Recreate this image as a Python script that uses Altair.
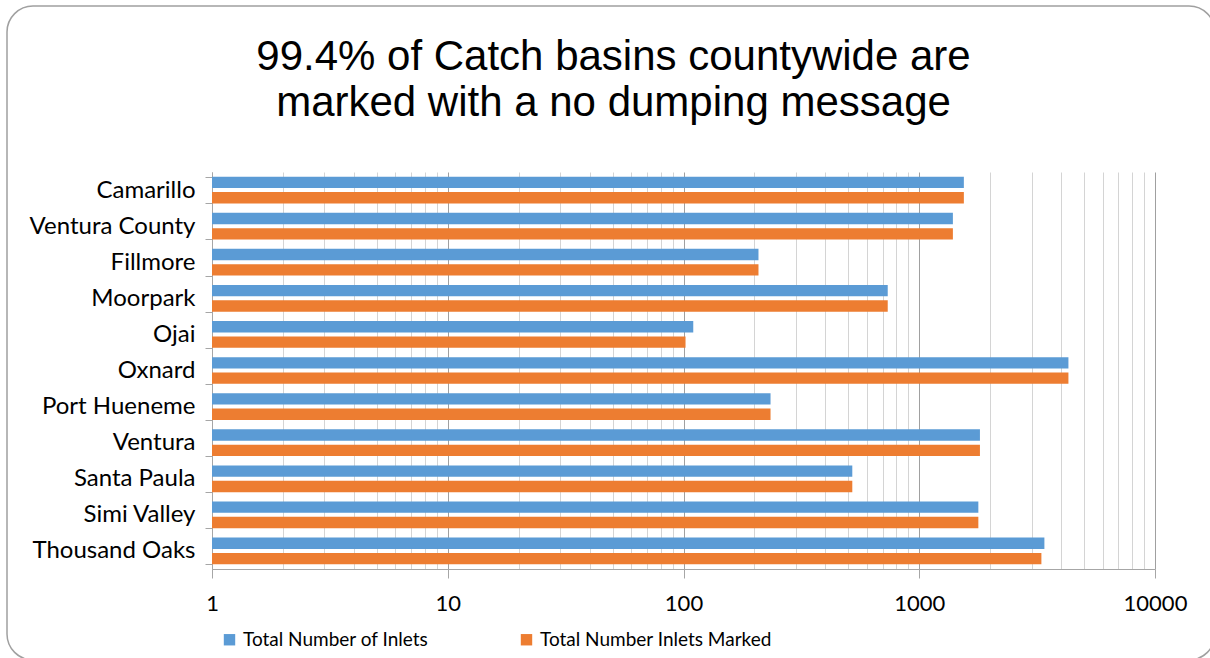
import altair as alt
import pandas as pd

cities = ["Camarillo", "Ventura County", "Fillmore", "Moorpark", "Ojai", "Oxnard",
          "Port Hueneme", "Ventura", "Santa Paula", "Simi Valley", "Thousand Oaks"]
total_inlets = [1546, 1389, 208, 735, 110, 4293, 234, 1809, 520, 1781, 3395]
inlets_marked = [1546, 1389, 208, 735, 102, 4293, 234, 1809, 520, 1781, 3297]
series_names = ["Total Number of Inlets", "Total Number Inlets Marked"]
series_colors = ["#5B9BD5", "#ED7D31"]
grid_values = [1, 2, 3, 4, 5, 6, 7, 8, 9,
               10, 20, 30, 40, 50, 60, 70, 80, 90,
               100, 200, 300, 400, 500, 600, 700, 800, 900,
               1000, 2000, 3000, 4000, 5000, 6000, 7000, 8000, 9000, 10000]
major_values = [1, 10, 100, 1000, 10000]
title_lines = ["99.4% of Catch basins countywide are", "marked with a no dumping message"]

rows = []
for c, t, m in zip(cities, total_inlets, inlets_marked):
    rows.append({"city": c, "series": series_names[0], "value": t})
    rows.append({"city": c, "series": series_names[1], "value": m})
df = pd.DataFrame(rows)

major_test = "indexof(" + str(major_values) + ", datum.value) >= 0"

bars = alt.Chart(df).mark_bar().encode(
    y=alt.Y("city:N", sort=cities, title=None,
            scale=alt.Scale(paddingInner=0.26, paddingOuter=0.13),
            axis=alt.Axis(tickBand="extent", tickSize=7, tickColor="#a6a6a6",
                          domainColor="#a6a6a6", labelFont="Lato", labelFontSize=24,
                          labelColor="#000000", labelPadding=10, labelLimit=300)),
    yOffset=alt.YOffset("series:N", sort=series_names,
                        scale=alt.Scale(paddingInner=0.26, paddingOuter=0)),
    x=alt.X("value:Q", title=None,
            scale=alt.Scale(type="log", domain=[1, 10000], nice=False),
            axis=alt.Axis(values=grid_values, format="d",
                          labelExpr=major_test + " ? datum.label : ''",
                          grid=True,
                          gridColor={"condition": {"test": major_test, "value": "#a0a0a0"},
                                     "value": "#d4d4d4"},
                          tickOpacity={"condition": {"test": major_test, "value": 1},
                                       "value": 0},
                          tickSize=9, tickColor="#a6a6a6", domainColor="#a6a6a6",
                          labelFont="Lato", labelFontSize=22, labelColor="#000000",
                          labelPadding=15, labelFlush=False, labelOverlap=False)),
    x2=alt.datum(1),
    color=alt.Color("series:N", title=None,
                    scale=alt.Scale(domain=series_names, range=series_colors),
                    legend=alt.Legend(orient="none", legendX=8, legendY=458,
                                      direction="horizontal", symbolType="square",
                                      symbolSize=130, symbolStrokeWidth=0,
                                      labelFont="Lato", labelFontSize=19,
                                      labelColor="#000000", columnPadding=88,
                                      labelLimit=400,
                                      symbolOffset=0, labelOffset=4)),
)

frame = alt.Chart(pd.DataFrame({"k": [0]})).mark_rect(
    filled=False, stroke="#a0a0a0", strokeWidth=1.5, cornerRadius=26
).encode(
    x=alt.value(-205), x2=alt.value(1003), y=alt.value(-166), y2=alt.value(488)
)

chart = alt.layer(frame, bars).properties(
    width=943, height=397,
    title=alt.TitleParams(text=title_lines, font="Liberation Sans", fontSize=42,
                          fontWeight="normal", color="#000000", anchor="middle",
                          frame="group", dx=-70, offset=0, dy=120, lineHeight=46),
    autosize=alt.AutoSizeParams(type="none"),
    padding={"left": 212, "top": 172, "right": 55, "bottom": 89},
).configure_view(stroke="transparent")

chart.save("out.html", embed_options={"renderer": "svg", "actions": False})
